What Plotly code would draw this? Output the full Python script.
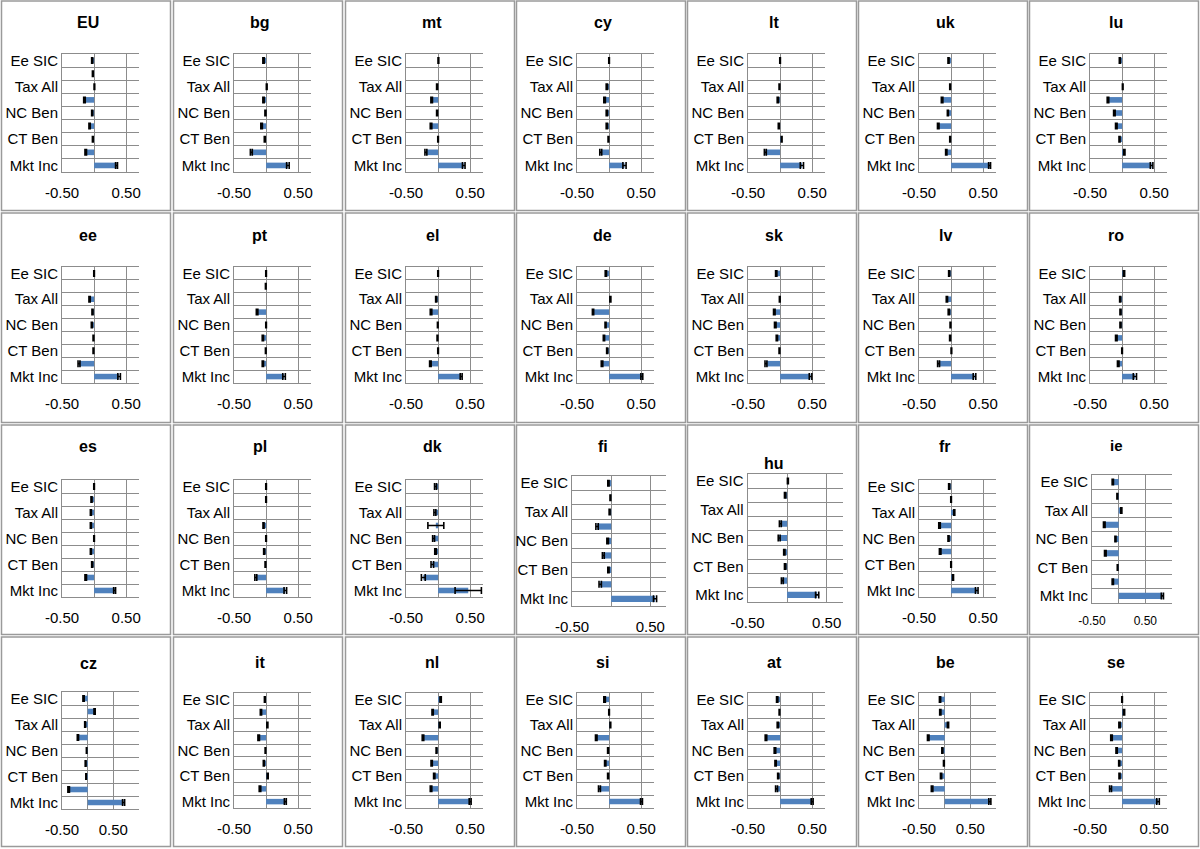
import plotly.graph_objects as go

# ---------------- data (rows top -> bottom) ----------------
row_labels = ["Ee SIC", "", "Tax All", "", "NC Ben", "", "CT Ben", "", "Mkt Inc"]
label_rows = ["Ee SIC", "Tax All", "NC Ben", "CT Ben", "Mkt Inc"]
tick_values = [-0.5, 0.0, 0.5]
tick_text = ["-0.50", "", "0.50"]

EU = [-0.03, -0.02, 0.005, -0.15, -0.03, -0.07, -0.02, -0.13, 0.35]
bg = [-0.04, None, 0.01, -0.04, -0.01, -0.07, -0.02, -0.23, 0.34]
mt = [0.005, None, -0.015, -0.10, -0.015, -0.11, 0.0, -0.19, 0.40]
cy = [0.0, None, -0.035, -0.07, -0.035, -0.035, -0.01, -0.13, 0.24]
lt = [0.0, None, -0.01, -0.035, None, -0.02, 0.025, -0.23, 0.34]
uk = [-0.04, None, -0.015, -0.14, -0.05, -0.20, -0.015, -0.075, 0.60]
lu = [-0.035, None, 0.01, -0.22, -0.12, -0.09, -0.04, 0.035, 0.46]
ee = [0.0, None, -0.07, -0.025, -0.035, -0.01, -0.01, -0.235, 0.39]
pt = [0.0, -0.005, None, -0.14, 0.0, -0.05, -0.005, -0.05, 0.28]
el = [0.0, None, -0.03, -0.11, -0.005, -0.01, 0.0, -0.12, 0.36]
de = [-0.05, None, 0.02, -0.25, -0.055, -0.08, -0.03, -0.11, 0.51]
sk = [-0.06, None, -0.005, -0.09, -0.075, -0.05, -0.01, -0.22, 0.475]
lv = [-0.03, None, -0.065, -0.035, -0.01, -0.015, 0.005, -0.195, 0.365]
ro = [0.03, None, -0.03, -0.025, -0.025, -0.09, 0.0, -0.06, 0.20]
es = [0.0, -0.04, -0.05, -0.05, 0.0, -0.05, -0.03, -0.13, 0.32]
pl = [0.0, 0.0, None, -0.04, 0.0, -0.03, -0.01, -0.16, 0.30]
dk = [-0.04, None, -0.05, -0.035, -0.07, -0.04, -0.09, -0.23, 0.47]
fi = [-0.035, -0.01, -0.02, -0.18, -0.045, -0.10, -0.035, -0.14, 0.56]
hu = [0.01, -0.025, None, -0.085, -0.10, -0.035, -0.025, -0.06, 0.38]
fr = [-0.03, 0.0, 0.05, -0.18, -0.04, -0.17, 0.0, 0.03, 0.40]
ie = [-0.11, -0.025, 0.05, -0.27, -0.06, -0.25, -0.02, -0.11, 0.82]
cz = [-0.08, 0.135, -0.05, -0.19, -0.02, -0.04, -0.03, -0.37, 0.70]
it = [-0.02, -0.08, 0.02, -0.115, -0.01, -0.035, 0.025, -0.095, 0.30]
nl = [0.04, -0.085, 0.025, -0.235, -0.025, -0.10, -0.06, -0.11, 0.50]
si = [-0.07, 0.0, 0.02, -0.20, -0.015, -0.06, -0.015, -0.15, 0.505]
at = [-0.045, -0.01, -0.035, -0.22, -0.08, -0.07, -0.03, -0.055, 0.50]
be = [-0.09, -0.085, 0.065, -0.32, -0.045, -0.015, -0.07, -0.245, 0.88]
se = [0.0, 0.03, -0.04, -0.165, -0.085, -0.045, -0.04, -0.18, 0.56]

EU_err = [0.008, 0.006, 0.005, 0.012, 0.008, 0.01, 0.006, 0.012, 0.015]
bg_err = [0.01, 0.0, 0.006, 0.01, 0.008, 0.012, 0.008, 0.015, 0.02]
mt_err = [0.006, 0.0, 0.008, 0.012, 0.008, 0.012, 0.005, 0.015, 0.02]
cy_err = [0.005, 0.0, 0.01, 0.012, 0.01, 0.01, 0.006, 0.015, 0.025]
lt_err = [0.005, 0.0, 0.006, 0.01, 0.0, 0.008, 0.006, 0.015, 0.025]
uk_err = [0.008, 0.0, 0.006, 0.012, 0.008, 0.012, 0.006, 0.01, 0.015]
lu_err = [0.008, 0.0, 0.005, 0.012, 0.012, 0.012, 0.008, 0.01, 0.02]
ee_err = [0.005, 0.0, 0.01, 0.008, 0.008, 0.006, 0.006, 0.015, 0.02]
pt_err = [0.005, 0.005, 0.0, 0.012, 0.005, 0.01, 0.005, 0.01, 0.02]
el_err = [0.005, 0.0, 0.008, 0.012, 0.005, 0.006, 0.005, 0.012, 0.015]
de_err = [0.01, 0.0, 0.008, 0.01, 0.008, 0.01, 0.008, 0.012, 0.015]
sk_err = [0.01, 0.0, 0.006, 0.012, 0.012, 0.01, 0.006, 0.015, 0.02]
lv_err = [0.008, 0.0, 0.01, 0.01, 0.006, 0.008, 0.005, 0.015, 0.02]
ro_err = [0.01, 0.0, 0.008, 0.008, 0.008, 0.012, 0.005, 0.012, 0.025]
es_err = [0.005, 0.008, 0.008, 0.008, 0.005, 0.008, 0.008, 0.012, 0.015]
pl_err = [0.005, 0.005, 0.0, 0.008, 0.005, 0.008, 0.006, 0.015, 0.02]
dk_err = [0.015, 0.0, 0.015, 0.124, 0.015, 0.012, 0.02, 0.03, 0.205]
fi_err = [0.008, 0.005, 0.006, 0.015, 0.01, 0.012, 0.008, 0.015, 0.02]
hu_err = [0.006, 0.008, 0.0, 0.012, 0.012, 0.008, 0.008, 0.012, 0.02]
fr_err = [0.008, 0.005, 0.008, 0.012, 0.008, 0.012, 0.005, 0.008, 0.02]
ie_err = [0.012, 0.008, 0.01, 0.015, 0.01, 0.015, 0.006, 0.012, 0.02]
cz_err = [0.012, 0.012, 0.008, 0.012, 0.005, 0.008, 0.006, 0.015, 0.02]
it_err = [0.006, 0.01, 0.008, 0.012, 0.005, 0.008, 0.008, 0.012, 0.015]
nl_err = [0.01, 0.01, 0.008, 0.012, 0.006, 0.01, 0.01, 0.012, 0.015]
si_err = [0.012, 0.005, 0.006, 0.012, 0.008, 0.01, 0.008, 0.015, 0.015]
at_err = [0.01, 0.005, 0.01, 0.012, 0.012, 0.01, 0.008, 0.015, 0.015]
be_err = [0.012, 0.012, 0.012, 0.015, 0.01, 0.008, 0.012, 0.015, 0.02]
se_err = [0.005, 0.01, 0.01, 0.012, 0.01, 0.008, 0.008, 0.015, 0.02]

grid_rows = [
    [("EU", EU, EU_err), ("bg", bg, bg_err), ("mt", mt, mt_err), ("cy", cy, cy_err),
     ("lt", lt, lt_err), ("uk", uk, uk_err), ("lu", lu, lu_err)],
    [("ee", ee, ee_err), ("pt", pt, pt_err), ("el", el, el_err), ("de", de, de_err),
     ("sk", sk, sk_err), ("lv", lv, lv_err), ("ro", ro, ro_err)],
    [("es", es, es_err), ("pl", pl, pl_err), ("dk", dk, dk_err), ("fi", fi, fi_err),
     ("hu", hu, hu_err), ("fr", fr, fr_err), ("ie", ie, ie_err)],
    [("cz", cz, cz_err), ("it", it, it_err), ("nl", nl, nl_err), ("si", si, si_err),
     ("at", at, at_err), ("be", be, be_err), ("se", se, se_err)],
]

# ---------------- layout geometry (pixels) ----------------
W, H = 1200, 849
col_x = [0, 172, 344, 515, 686, 857, 1028]
row_y = [0, 212, 424, 636]
row_plot_y = [(54, 172), (55, 171), (56, 173), (57, 172)]
row_title_y = [23, 24, 23, 26]

special = {
    "fi": dict(x=(57, 151), y=(52, 182), title=23),
    "hu": dict(x=(61.5, 156.5), y=(50, 178), title=39),
    "ie": dict(x=(64, 144), y=(51, 179), xr=(-0.5, 1.0), tickfont=12, title=22, titlefont=15),
    "cz": dict(xr=(-0.5, 1.0), y=(56, 173), title=27),
    "be": dict(xr=(-0.5, 1.0)),
}

FONT = "Liberation Sans, Arial, Helvetica, sans-serif"
BAR = "#4F81BD"
GRID = "#8c8c8c"

fig = go.Figure()
layout = {}
shapes = []
annotations = []
n = 0
yrows = list(range(9, 0, -1))
for r, row in enumerate(grid_rows):
    for c, (name, vals, errs) in enumerate(row):
        n += 1
        ox, oy = col_x[c], row_y[r]
        g = dict(x=(62, 139), y=row_plot_y[r], xr=(-0.5, 0.7), tickfont=15,
                 title=row_title_y[r], titlefont=16)
        g.update(special.get(name, {}))
        x0, x1 = g["x"]
        y0, y1 = g["y"]
        xa = "x" if n == 1 else f"x{n}"
        ya = "y" if n == 1 else f"y{n}"
        fig.add_trace(go.Bar(
            x=vals, y=yrows, orientation="h", width=0.43,
            marker=dict(color=BAR, line=dict(width=0)),
            error_x=dict(type="data", array=errs, visible=True, color="black",
                         thickness=1.6, width=3.5),
            xaxis=xa, yaxis=ya, showlegend=False, hoverinfo="skip",
        ))
        layout["xaxis" if n == 1 else f"xaxis{n}"] = dict(
            domain=[(ox + x0) / W, (ox + x1) / W], anchor=ya, automargin=False,
            range=list(g["xr"]), tickmode="array", tickvals=tick_values,
            ticktext=tick_text, showgrid=True, gridcolor=GRID, gridwidth=1,
            zeroline=False, showline=True, mirror=True, linecolor=GRID, linewidth=1,
            ticks="", ticklabelstandoff=7,
            tickfont=dict(family=FONT, size=g["tickfont"], color="black"),
            fixedrange=True,
        )
        layout["yaxis" if n == 1 else f"yaxis{n}"] = dict(
            domain=[1 - (oy + y1) / H, 1 - (oy + y0) / H], anchor=xa, automargin=False,
            range=[0.5, 9.5], tickmode="array", tickvals=[9, 7, 5, 3, 1],
            ticktext=label_rows, showgrid=False, zeroline=False,
            showline=True, linecolor=GRID, linewidth=1, ticks="",
            minor=dict(tickmode="array", tickvals=[1.5, 2.5, 3.5, 4.5, 5.5, 6.5, 7.5, 8.5],
                       showgrid=True, gridcolor=GRID, gridwidth=1, ticks=""),
            tickfont=dict(family=FONT, size=15, color="black"),
            ticklabelstandoff=0, fixedrange=True,
        )
        annotations.append(dict(
            text=f"<b>{name}</b>", xref="paper", yref="paper",
            x=(ox + 88) / W, y=1 - (oy + g["title"]) / H,
            xanchor="center", yanchor="middle", showarrow=False,
            font=dict(family=FONT, size=g["titlefont"], color="black"),
        ))
        shapes.append(dict(
            type="rect", xref="paper", yref="paper",
            x0=(ox + 1.5) / W, x1=(ox + 170.5) / W,
            y0=1 - (oy + 210.5) / H, y1=1 - (oy + 1) / H,
            line=dict(color="#9a9a9a", width=1.5), fillcolor="rgba(0,0,0,0)",
            layer="below",
        ))

fig.update_layout(
    width=W, height=H, margin=dict(l=0, r=0, t=0, b=0, autoexpand=False),
    paper_bgcolor="white", plot_bgcolor="white",
    bargap=0.5, showlegend=False,
    annotations=annotations, shapes=shapes,
    font=dict(family=FONT, color="black"),
    **layout,
)
fig.write_html(
    "out.html",
    config={"displayModeBar": False, "staticPlot": True},
    post_script="document.body.style.margin='0px';document.body.style.overflow='hidden';",
)
